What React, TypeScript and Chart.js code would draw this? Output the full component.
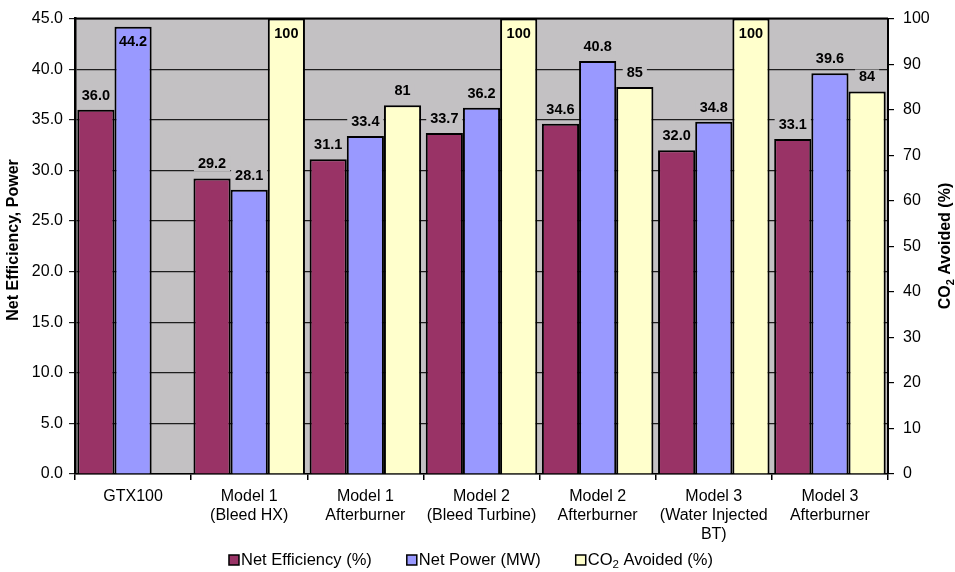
import React, { useEffect, useRef } from 'react';
import { Chart, registerables } from 'chart.js';

Chart.register(...registerables);

// ---------- data ----------
const categories: string[][] = [
  ['GTX100'],
  ['Model 1', '(Bleed HX)'],
  ['Model 1', 'Afterburner'],
  ['Model 2', '(Bleed Turbine)'],
  ['Model 2', 'Afterburner'],
  ['Model 3', '(Water Injected', 'BT)'],
  ['Model 3', 'Afterburner'],
];
const netEfficiency = [36.0, 29.2, 31.1, 33.7, 34.6, 32.0, 33.1];
const netPower = [44.2, 28.1, 33.4, 36.2, 40.8, 34.8, 39.6];
const co2Avoided: (number | null)[] = [null, 100, 81, 100, 85, 100, 84];
const seriesLabels = ['Net Efficiency (%)', 'Net Power (MW)', 'CO\u2082 Avoided (%)'];
const legendParts = [['Net Efficiency (%)'], ['Net Power (MW)'], ['CO', '2', ' Avoided (%)']];
const leftAxisRange = [0, 45, 5];
const rightAxisRange = [0, 100, 10];
const leftTitle = 'Net Efficiency, Power';
const rightTitleParts = ['CO', '2', ' Avoided (%)'];

// ---------- style ----------
const FONT = '"Liberation Sans", Arial, Helvetica, sans-serif';
const PLOT_BG = '#c3c1c3';
const COLORS = ['#993366', '#9999ff', '#ffffcc'];
const W = 955;
const H = 572;
const PLOT_TOP = 18;
const PLOT_BOTTOM = 474;
const PLOT_LEFT = 75;
const PLOT_RIGHT = 888;
const LEGEND_Y = 560;
const LEGEND_CENTER_X = 471;

function drawParts(ctx: any, parts: string[], x: number, y: number, big: string, small: string, subShift: number) {
  // draws text parts; odd index = subscript
  let cx = x;
  parts.forEach((p, i) => {
    const isSub = parts.length === 3 && i === 1;
    ctx.font = isSub ? small : big;
    ctx.fillText(p, cx, isSub ? y + subShift : y);
    cx += ctx.measureText(p).width;
  });
  return cx - x;
}

function measureParts(ctx: any, parts: string[], big: string, small: string) {
  let w = 0;
  parts.forEach((p, i) => {
    const isSub = parts.length === 3 && i === 1;
    ctx.font = isSub ? small : big;
    w += ctx.measureText(p).width;
  });
  return w;
}

const framePlugin = {
  id: 'framePlugin',
  beforeDraw(chart: any) {
    const { ctx, chartArea } = chart;
    ctx.save();
    ctx.fillStyle = PLOT_BG;
    ctx.fillRect(chartArea.left, chartArea.top, chartArea.right - chartArea.left, chartArea.bottom - chartArea.top);
    ctx.restore();
  },
  afterDatasetsDraw(chart: any) {
    const { ctx, chartArea } = chart;
    ctx.save();
    ctx.font = `bold 14.5px ${FONT}`;
    chart.data.datasets.forEach((ds: any, di: number) => {
      const meta = chart.getDatasetMeta(di);
      meta.data.forEach((bar: any, i: number) => {
        const v = ds.data[i];
        if (v === null || v === undefined) return;
        const text = di === 2 ? String(Math.round(v)) : Number(v).toFixed(1);
        const { x, y } = bar.getProps(['x', 'y'], true);
        const w = ctx.measureText(text).width;
        const inside = y - 22 < chartArea.top;
        const base = inside ? y + 19 : y - 10;
        if (!inside) {
          ctx.fillStyle = PLOT_BG;
          ctx.fillRect(x - w / 2 - 4, base - 12, w + 8, 15);
        }
        ctx.fillStyle = '#000';
        ctx.textAlign = 'center';
        ctx.textBaseline = 'alphabetic';
        ctx.fillText(text, x, base);
      });
    });
    ctx.restore();
  },
  afterDraw(chart: any) {
    const { ctx, chartArea } = chart;
    ctx.save();
    // top border of plot
    ctx.strokeStyle = '#000';
    ctx.lineWidth = 2;
    ctx.beginPath();
    ctx.moveTo(chartArea.left, chartArea.top);
    ctx.lineTo(chartArea.right, chartArea.top);
    ctx.stroke();

    // left title
    ctx.fillStyle = '#000';
    ctx.font = `bold 16px ${FONT}`;
    ctx.textAlign = 'center';
    ctx.textBaseline = 'middle';
    ctx.save();
    ctx.translate(14, 240);
    ctx.rotate(-Math.PI / 2);
    ctx.fillText(leftTitle, 0, 0);
    ctx.restore();

    // right title with subscript
    ctx.save();
    ctx.translate(946, 246);
    ctx.rotate(-Math.PI / 2);
    ctx.textAlign = 'left';
    ctx.textBaseline = 'middle';
    const bigFont = `bold 16px ${FONT}`;
    const smallFont = `bold 11px ${FONT}`;
    const tw = measureParts(ctx, rightTitleParts, bigFont, smallFont);
    drawParts(ctx, rightTitleParts, -tw / 2, 0, bigFont, smallFont, 5);
    ctx.restore();

    // legend (built from dataset labels/colours)
    const lgBig = `16.5px ${FONT}`;
    const lgSmall = `11.5px ${FONT}`;
    const box = 10;
    const gapBoxText = 2;
    const gapItems = 35;
    ctx.textAlign = 'left';
    ctx.textBaseline = 'middle';
    const widths = legendParts.map((p) => measureParts(ctx, p, lgBig, lgSmall));
    const total = widths.reduce((a, b) => a + b, 0) + legendParts.length * (box + gapBoxText) + gapItems * (legendParts.length - 1);
    let lx = LEGEND_CENTER_X - total / 2;
    chart.data.datasets.forEach((ds: any, i: number) => {
      ctx.fillStyle = ds.backgroundColor;
      ctx.fillRect(lx, LEGEND_Y - box / 2, box, box);
      ctx.strokeStyle = '#000';
      ctx.lineWidth = 1.5;
      ctx.strokeRect(lx, LEGEND_Y - box / 2, box, box);
      lx += box + gapBoxText;
      ctx.fillStyle = '#000';
      drawParts(ctx, legendParts[i], lx, LEGEND_Y, lgBig, lgSmall, 5);
      lx += widths[i] + gapItems;
    });
    ctx.restore();
  },
};

export default function App() {
  const canvasRef = useRef<HTMLCanvasElement | null>(null);

  useEffect(() => {
    document.body.style.margin = '0';
    const canvas = canvasRef.current;
    if (!canvas) return;
    Chart.defaults.font.family = FONT;
    Chart.defaults.color = '#000';

    const chart = new Chart(canvas, {
      type: 'bar',
      data: {
        labels: categories,
        datasets: [
          {
            label: seriesLabels[0],
            data: netEfficiency,
            backgroundColor: COLORS[0],
            borderColor: '#000',
            borderWidth: 2,
            yAxisID: 'y',
          },
          {
            label: seriesLabels[1],
            data: netPower,
            backgroundColor: COLORS[1],
            borderColor: '#000',
            borderWidth: 2,
            yAxisID: 'y',
          },
          {
            label: seriesLabels[2],
            data: co2Avoided,
            backgroundColor: COLORS[2],
            borderColor: '#000',
            borderWidth: 2,
            yAxisID: 'y1',
          },
        ],
      },
      options: {
        responsive: false,
        animation: false,
        devicePixelRatio: 1,
        categoryPercentage: 0.96,
        barPercentage: 1.0,
        layout: { padding: { top: PLOT_TOP, left: 0, right: 0, bottom: 0 } },
        plugins: {
          tooltip: { enabled: false },
          title: { display: false },
          legend: { display: false },
        },
        scales: {
          x: {
            type: 'category',
            offset: true,
            grid: {
              offset: true,
              drawOnChartArea: false,
              drawTicks: true,
              tickLength: 6,
              color: '#000',
              lineWidth: 1.5,
            },
            border: { display: true, color: '#000', width: 1.5 },
            ticks: {
              autoSkip: false,
              maxRotation: 0,
              minRotation: 0,
              padding: 7,
              color: '#000',
              font: { size: 16, family: FONT, lineHeight: 1.2 },
            },
            afterFit(scale: any) {
              scale.height = H - PLOT_BOTTOM;
            },
          },
          y: {
            type: 'linear',
            position: 'left',
            min: leftAxisRange[0],
            max: leftAxisRange[1],
            grid: {
              color: '#1e1e1e',
              lineWidth: 1.2,
              drawTicks: true,
              tickLength: 6,
            },
            border: { display: true, color: '#000', width: 2.5 },
            ticks: {
              stepSize: leftAxisRange[2],
              padding: 6,
              color: '#000',
              font: { size: 16, family: FONT },
              callback: (v: any) => Number(v).toFixed(1),
            },
            afterFit(scale: any) {
              scale.width = PLOT_LEFT;
            },
          },
          y1: {
            type: 'linear',
            position: 'right',
            min: rightAxisRange[0],
            max: rightAxisRange[1],
            grid: {
              drawOnChartArea: false,
              drawTicks: true,
              tickLength: 6,
              color: '#000',
              lineWidth: 1.2,
            },
            border: { display: true, color: '#000', width: 2 },
            ticks: {
              stepSize: rightAxisRange[2],
              padding: 9,
              color: '#000',
              font: { size: 16, family: FONT },
            },
            afterFit(scale: any) {
              scale.width = W - PLOT_RIGHT;
            },
          },
        },
      },
      plugins: [framePlugin],
    } as any);

    return () => {
      chart.destroy();
    };
  }, []);

  return (
    <div style={{ width: W, height: H, position: 'relative' }}>
      <canvas ref={canvasRef} width={W} height={H} style={{ width: W, height: H, display: 'block' }} />
    </div>
  );
}
